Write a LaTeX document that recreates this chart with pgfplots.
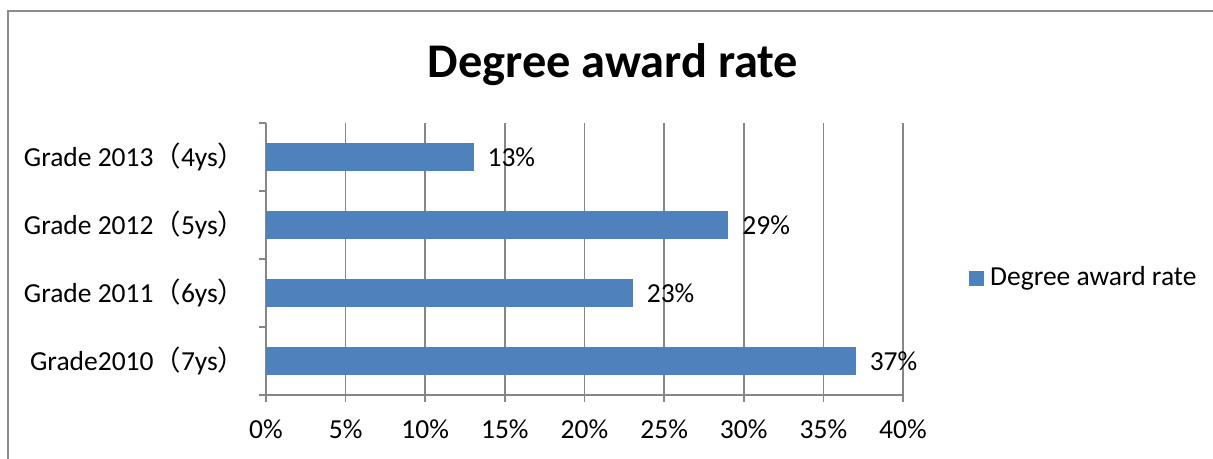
\documentclass[border=0pt]{standalone}
\usepackage{pgfplots}
\pgfplotsset{compat=1.18}
\usepackage{pgfplotstable}
\usepackage{fontspec}
\setmainfont{Carlito}
\newfontfamily\cjk{Noto Sans CJK SC}
\definecolor{barblue}{HTML}{4F81BD}
\definecolor{gridgray}{HTML}{868686}
\definecolor{framegray}{HTML}{8C8C8C}

\pgfplotstableread{
y val
0 37
1 23
2 29
3 13
}\rates

\begin{document}
\fontsize{13.75}{16.5}\selectfont
\begin{tikzpicture}
\useasboundingbox (0,0) rectangle (606.5pt,229.5pt);
\draw[framegray, line width=1pt] (4pt,0) -- (4pt,224pt) -- (606.5pt,224pt);
\node[font=\fontsize{24.2}{29}\selectfont\bfseries] at (306.5pt,197pt) {Degree award rate};
\begin{axis}[
  at={(133pt,32pt)}, anchor=south west, scale only axis,
  width=318.5pt, height=136pt,
  xmin=0, xmax=40, ymin=-0.5, ymax=3.5,
  xbar, bar width=13.5pt,
  axis x line*=bottom, axis y line*=left,
  axis line style={gridgray, line width=0.8pt},
  tick align=outside,
  major tick length=0pt, minor tick length=3.5pt,
  every minor tick/.append style={gridgray, line width=0.8pt},
  xtick={0,5,...,40},
  xticklabels={0\%,5\%,10\%,15\%,20\%,25\%,30\%,35\%,40\%},
  minor xtick={0,5,...,40},
  ytick={0,1,2,3},
  yticklabels={Grade2010{\cjk （}7ys{\cjk ）},Grade 2011{\cjk （}6ys{\cjk ）},Grade 2012{\cjk （}5ys{\cjk ）},Grade 2013{\cjk （}4ys{\cjk ）}},
  minor ytick={-0.5,0.5,1.5,2.5,3.5},
  xmajorgrids=true, ymajorgrids=false,
  major grid style={gridgray, line width=0.8pt},
  x tick label style={yshift=-7.5pt},
  y tick label style={xshift=-5.5pt},
  nodes near coords={\pgfmathprintnumber{\pgfplotspointmeta}\%},
  point meta=x,
  /pgf/number format/assume math mode=true,
  every node near coord/.append style={anchor=west, xshift=2.5pt, black},
  legend style={draw=none, fill=none, inner sep=0pt, at={(1.1036,0.43)}, anchor=west,
    nodes={inner sep=0pt}},
  legend cell align=left,
  legend image code/.code={\fill[barblue] (0pt,-3.5pt) rectangle (7pt,3.5pt);},
]
\addplot[fill=barblue, draw=barblue] table[x=val, y=y] {\rates};
\addlegendentry{\hspace{3pt}Degree award rate}
\end{axis}
\end{tikzpicture}
\end{document}
